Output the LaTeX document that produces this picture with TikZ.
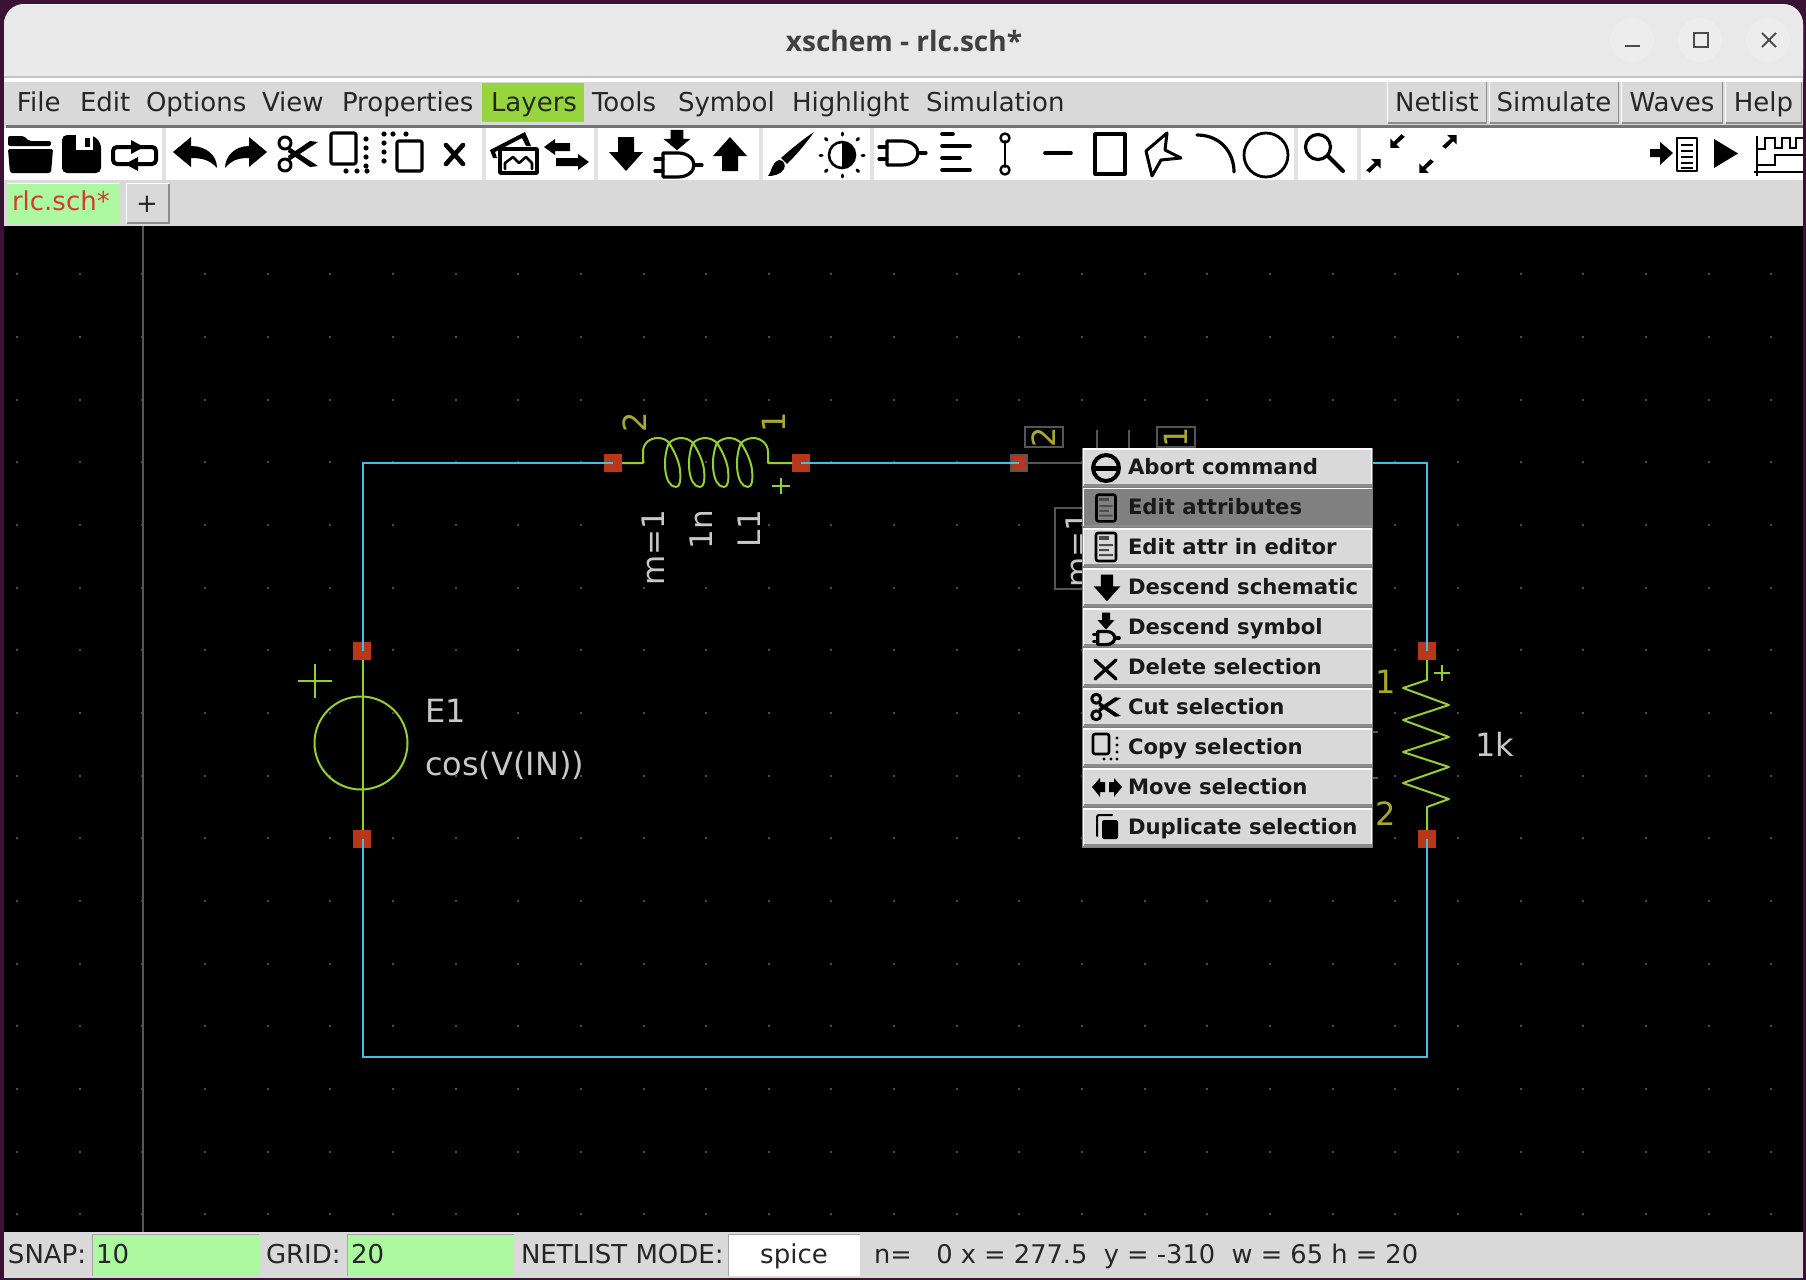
\documentclass[tikz,border=0pt]{standalone}
\usepackage{fontspec}
\setmainfont{DejaVu Sans}
\newfontfamily\titlefont{Open Sans}
\newcommand{\uisize}[1]{\fontsize{#1}{#1}\selectfont}
\definecolor{desk}{HTML}{3A1236}
\definecolor{winbar}{HTML}{E9E9E9}
\definecolor{uigray}{HTML}{D9D9D9}
\definecolor{sepgray}{HTML}{E2E2E2}
\definecolor{entry}{HTML}{ADF9A0}
\definecolor{layersgreen}{HTML}{96D63C}
\definecolor{wirec}{HTML}{44BEDE}
\definecolor{symc}{HTML}{93D132}
\definecolor{pinc}{HTML}{B8361A}
\definecolor{numc}{HTML}{A8A830}
\definecolor{txtc}{HTML}{C8C8C8}
\definecolor{ghost}{HTML}{555555}
\definecolor{griddot}{HTML}{4A4A4A}
\definecolor{tabred}{HTML}{D63A2A}
\tikzset{
  x=0.5pt,y=-0.5pt,
  lbl/.style={inner sep=0pt,outer sep=0pt,anchor=base west,font=\uisize{13pt},text=black!85},
  lblc/.style={lbl,anchor=base},
  mitem/.style={inner sep=0pt,outer sep=0pt,anchor=base west,font=\uisize{10.6pt}\bfseries,text=black!90},
  schem/.style={inner sep=0pt,outer sep=0pt,font=\uisize{16pt},text=txtc},
  pinnum/.style={inner sep=0pt,outer sep=0pt,font=\uisize{16pt},text=numc},
  pinbox/.style={draw=none,fill=pinc,minimum size=9pt,inner sep=0pt,outer sep=0pt},
  wire/.style={draw=wirec,line width=1.1pt},
  sym/.style={draw=symc,line width=1pt,line join=round},
  ghostline/.style={draw=ghost,line width=0.8pt},
  ico/.style={draw=black,line width=1.6pt,line cap=round,line join=round},
  pics/scissorsicon/.style={code={
    \draw[ico,line width=1.5pt] (-13,-11) circle[radius=6];
    \draw[ico,line width=1.5pt] (-13,11) circle[radius=6];
    \fill (-9,-7) -- (20,12) -- (12,13) -- (-10,-2) -- cycle;
    \fill (-9,7) -- (20,-12) -- (12,-13) -- (-10,2) -- cycle;
  }},
  pics/gateicon/.style={code={
    \draw[ico] (-15,-12) -- (0,-12) .. controls (10,-12) and (16,-6) .. (16,0) .. controls (16,6) and (10,12) .. (0,12) -- (-15,12) -- cycle;
    \draw[ico] (-23,-6) -- (-15,-6) (-23,6) -- (-15,6) (16,0) -- (24,0);
  }},
  pics/downarrow/.style={code={
    \fill (-8,-17) -- (8,-17) -- (8,-2) -- (17,-2) -- (0,17) -- (-17,-2) -- (-8,-2) -- cycle;
  }},
  pics/diagarrow/.style={code={
    \fill (9,-8) -- (-2,-8) -- (2,-4) -- (-8,5) -- (-4,8) -- (5,-1) -- (9,3) -- cycle;
  }},
  pics/docicon/.style={code={
    \draw[ico,line width=1.3pt,rounded corners=1pt] (-10,-14) rectangle (10,14);
    \fill[black!70] (-7,-3) rectangle (7,-1) (-7,2) rectangle (3,4) (-7,7) rectangle (7,9);
    \fill[black!70] (-7,-11) rectangle (3,-7);
  }},
}
\begin{document}
\begin{tikzpicture}
\useasboundingbox (0,0) rectangle (1806,1280);
\fill[desk] (0,0) rectangle (1806,1280);
% window
\fill[white,rounded corners=10pt] (4,4) rectangle (1803,100);
\fill[winbar,rounded corners=10pt] (4,5) rectangle (1803,90);
\fill[uigray!90!black] (4,76) rectangle (1803,78);
\fill[white] (4,78) rectangle (1803,82);
\fill[uigray] (4,82) rectangle (1803,1278);
\fill[black!55] (6,125) rectangle (1803,128);
\node[inner sep=0pt,font=\uisize{14pt}\titlefont\bfseries,text=black!75,anchor=base] (title) at (904,51) {xschem - rlc.sch*};
\foreach \cx/\nm in {1632/btna,1700/btnb,1768/btnc}
  \node[circle,fill=black!7,minimum size=22pt,inner sep=0pt] (\nm) at (\cx,40) {};
\draw[black!70,line width=1pt] (1625,46) -- (1640,46);
\draw[black!70,line width=1pt] (1694,33) rectangle (1708,47);
\draw[black!70,line width=1pt] (1762,33) -- (1776,47) (1776,33) -- (1762,47);
% menu bar
\fill[layersgreen] (482,83) rectangle (584,122);
\foreach \tx/\xx/\nm in {File/17/mfile,Edit/80/medit,Options/146/mopt,View/262/mview,Properties/342/mprop,Layers/491/mlay,Tools/592/mtool,Symbol/678/msym,Highlight/792/mhigh,Simulation/926/msim}
  \node[lbl] (\nm) at (\xx,111) {\tx};
\foreach \a/\b/\tx/\nm in {1387/1487/Netlist/bnet,1489/1619/Simulate/bsim,1621/1723/Waves/bwav,1725/1802/Help/bhlp}{
  \fill[white] (\a,81) rectangle (\b,123);
  \fill[black!45] (\a+1,82) rectangle (\b,124);
  \fill[uigray] (\a+1,82) rectangle (\b-1,122);
  \node[lblc] (\nm) at ({(\a+\b)/2},111) {\tx};
}
% toolbar
\fill[white] (4,128) rectangle (1803,180);
\foreach \a in {162,482,594,759,870,1294,1357}
  \fill[sepgray] (\a,128) rectangle (\a+4,180);
% folder
\fill[rounded corners=1pt] (8,146) -- (8,136) -- (24,136) -- (29,141) -- (51,141) -- (51,146) -- cycle;
\fill[rounded corners=1pt] (8,149) -- (53,149) -- (51,173) -- (10,173) -- cycle;
% floppy
\fill[rounded corners=2.5pt] (62,135) -- (93,135) -- (101,143) -- (101,173) -- (62,173) -- cycle;
\fill[white] (76,135) rectangle (93,150);
\fill (85,138) rectangle (90,147);
% reload
\draw[ico,line width=2pt,line cap=butt,rounded corners=2pt] (135,147) -- (113,147) -- (113,164) -- (134,164);
\draw[ico,line width=2pt,line cap=butt,rounded corners=2pt] (134,164) -- (156,164) -- (156,147) -- (134,147);
\fill (131,140) -- (144,147) -- (131,154) -- cycle;
\fill (138,157) -- (125,164) -- (138,171) -- cycle;
% undo redo
\fill (173,152) -- (191,137) -- (191,146) .. controls (206,146) and (217,155) .. (217,168) .. controls (210,160) and (202,158) .. (191,158) -- (191,167) -- cycle;
\fill (267,152) -- (249,137) -- (249,146) .. controls (234,146) and (225,157) .. (225,168) .. controls (232,160) and (238,158) .. (249,158) -- (249,167) -- cycle;
\pic at (298,154) {scissorsicon};
% copy
\draw[ico,rounded corners=1pt] (331,133) rectangle (356,164);
\foreach \p in {(366,139),(366,148),(366,157),(366,166),(346,171),(357,171),(367,171)}
  \fill \p circle[radius=2.6];
% paste
\draw[ico,rounded corners=1pt] (397,141) rectangle (422,171);
\foreach \p in {(384,134),(384,143),(384,152),(384,161),(393,134),(406,134)}
  \fill \p circle[radius=2.6];
% x
\draw[ico,line width=2.3pt] (446,145) -- (463,164) (463,145) -- (446,164);
% open image
\draw[ico,line width=1.8pt,line cap=butt] (500,149) rectangle (537,173);
\draw[ico,line width=1.3pt] (505,169) -- (505,163) -- (513,157) -- (519,163) -- (526,157) -- (532,163) -- (532,169);
\fill (490,150) -- (525,132) -- (531,146) -- (526,146) -- (522,138) -- (495,152) -- (497,158) -- (493,158) -- cycle;
% swap
\fill (544,147) -- (555,139) -- (555,143) -- (570,143) -- (570,151) -- (555,151) -- (555,155) -- cycle;
\fill (589,162) -- (578,154) -- (578,158) -- (556,158) -- (556,166) -- (578,166) -- (578,170) -- cycle;
% descend
\pic at (626,154) {downarrow};
\pic[xscale=0.8,yscale=0.6] at (677,140) {downarrow};
\pic at (678,165) {gateicon};
\pic[rotate=180] at (730,154) {downarrow};
% brush
\fill (814,132) .. controls (805,145) and (795,156) .. (787,164) -- (781,158) .. controls (790,150) and (802,140) .. (814,132) -- cycle;
\fill (779,160) .. controls (784,160) and (786,165) .. (784,169) .. controls (780,175) and (773,176) .. (768,176) .. controls (772,172) and (771,163) .. (779,160) -- cycle;
% sun
\draw[ico,line width=1.3pt] (842,155) circle[radius=13];
\fill (842,142) arc[start angle=-90,end angle=90,radius=13] -- cycle;
\foreach \dx/\dy in {0/-20,0/20,-20/0,20/0,-15/-15,15/-15,-15/15,15/15}
  \draw[ico,line width=1.5pt] ({842+\dx},{155+\dy}) -- ({842+\dx*1.1},{155+\dy*1.1});
\pic at (902,153) {gateicon};
% align lines
\draw[ico,line width=1.8pt] (942,134) -- (953,134) (942,146) -- (970,146) (942,158) -- (960,158) (942,170) -- (970,170);
% wire tool
\draw[ico,line width=1.3pt] (1005,141) -- (1005,167);
\draw[ico,line width=1.2pt] (1005,138) circle[radius=4.5] (1005,170) circle[radius=4.5];
\draw[ico,line width=1.8pt] (1045,153) -- (1071,153);
\draw[ico,line cap=butt] (1095,134) rectangle (1125,174);
\draw[ico,line width=1.5pt] (1146,151) -- (1167,133) -- (1165,150) -- (1181,158) -- (1161,160) -- (1152,176) -- cycle;
\draw[ico] (1197,135) .. controls (1220,135) and (1234,152) .. (1234,172);
\draw[ico,line width=1.4pt] (1266,155) circle[radius=22];
\draw[ico] (1318,147) circle[radius=12.5];
\draw[ico,line width=2pt] (1328,156) -- (1343,171);
\pic[scale=0.85] at (1373,166) {diagarrow};
\pic[rotate=180,scale=0.85] at (1398,141) {diagarrow};
\pic[rotate=180,scale=0.85] at (1427,166) {diagarrow};
\pic[scale=0.85] at (1449,142) {diagarrow};
% netlist
\fill (1650,149) -- (1660,149) -- (1660,142) -- (1673,153) -- (1660,165) -- (1660,157) -- (1650,157) -- cycle;
\draw[ico,line width=1pt,line cap=butt] (1677,138) rectangle (1697,171);
\foreach \yy in {144,150,156,162,167}
  \fill (1681,\yy) rectangle (1693,\yy+2);
\fill (1714,139) -- (1738,153.5) -- (1714,168) -- cycle;
\draw[ico,line width=1pt,line cap=butt] (1757,136) -- (1757,176) (1754,172) -- (1803,172);
\draw[ico,line width=1.1pt,line cap=butt,line join=miter] (1757,149) -- (1765,149) -- (1765,138) -- (1775,138) -- (1775,148) -- (1782,148) -- (1782,138) -- (1790,138) -- (1790,148) -- (1796,148) -- (1796,138) -- (1803,138);
\draw[ico,line width=1.1pt,line cap=butt,line join=miter] (1757,165) -- (1775,165) -- (1775,155) -- (1803,155);
% tabs
\fill[entry] (7,183) rectangle (119,223);
\fill[white] (7,183) rectangle (119,184);
\node[lbl,text=tabred] (tabname) at (12,210) {rlc.sch*};
\fill[white] (126,183) rectangle (169,223);
\fill[black!45] (127,184) rectangle (170,224);
\fill[uigray] (127,184) rectangle (168,222);
\node[lblc] (tabplus) at (147,212) {+};
% canvas
\fill[black] (4,226) rectangle (1803,1232);
\foreach \i in {0,...,28} \foreach \j in {-4,...,11}
  \fill[griddot] ({17+62.65*\i-1},{525+62.65*\j-1}) rectangle +(2,2);
\draw[ghost,line width=0.7pt] (143,226) -- (143,1232);
% pins
\node[pinbox] (L2) at (613,463) {};
\node[pinbox] (L1) at (801,463) {};
\node[pinbox,minimum size=8pt,draw=ghost,line width=0.6pt] (C2) at (1019,463) {};
\coordinate (C1) at (1200,463);
\node[pinbox] (Et) at (362,651) {};
\node[pinbox] (Eb) at (362,839) {};
\node[pinbox] (Rt) at (1427,651) {};
\node[pinbox] (Rb) at (1427,839) {};
\coordinate (TL) at (363,463);
\coordinate (TR) at (1427,463);
\coordinate (BL) at (363,1057);
\coordinate (BR) at (1427,1057);
% wires
\draw[wire] (L2.center) -- (TL) -- (363,651);
\draw[wire] (L1.center) -- (C2.center);
\draw[wire] (C1) -- (TR) -- (Rt.center);
\draw[wire] (Rb.center) -- (BR) -- (BL) -- (363,839);
% inductor
\draw[sym] (L2.east) -- (643,463) -- (643,452) .. controls (643,443) and (650,438) .. (658,438) .. controls (663,438) and (667,440) .. (669,443);
\foreach \d in {0,24,48}
  \draw[sym] ({669+\d},443) .. controls ({672+\d},440) and ({677+\d},438) .. ({681+\d},438) .. controls ({686+\d},438) and ({690+\d},440) .. ({693+\d},443);
\draw[sym] (741,443) .. controls (744,440) and (749,438) .. (753,438) .. controls (760,438) and (768,443) .. (768,452) -- (768,463) -- (L1.west);
\foreach \d in {0,24,48,72}
  \draw[sym] ({669+\d},443) .. controls ({662+\d},458) and ({664+\d},487) .. ({676+\d},487) .. controls ({680+\d},487) and ({681+\d},480) .. ({680+\d},470) .. controls ({679+\d},460) and ({673+\d},449) .. ({669+\d},443);
\draw[sym] (772,486) -- (790,486) (781,478) -- (781,494);
\node[pinnum,rotate=90] (Ln2) at (635,422) {2};
\node[pinnum,rotate=90] (Ln1) at (774,422) {1};
\node[schem,rotate=90,anchor=base east,font=\uisize{15.5pt}] (Lm) at (664,510) {m=1};
\node[schem,rotate=90,anchor=base east,font=\uisize{15.5pt}] (Lv) at (712,510) {1n};
\node[schem,rotate=90,anchor=base east,font=\uisize{15.5pt}] (Ln) at (760,510) {L1};
% capacitor (selected, behind the menu)
\draw[ghostline] (C2.east) -- (1090,463);
\draw[ghostline] (1097,430) -- (1097,450) (1129,430) -- (1129,450);
\node[pinnum,rotate=90,draw=ghost,line width=0.8pt,minimum width=10pt,minimum height=19pt] (Cn2) at (1044,437) {2};
\node[pinnum,rotate=90,draw=ghost,line width=0.8pt,minimum width=10pt,minimum height=19pt] (Cn1) at (1176,437) {1};
\draw[ghostline] (1100,508) -- (1055,508) -- (1055,589) -- (1100,589);
\node[schem,rotate=90,anchor=base east,font=\uisize{15.5pt}] (Cm) at (1088,512) {m=1};
% source
\draw[sym] (Et.south -| 363,0) -- (Eb.north -| 363,0);
\draw[sym] (361,743) circle[radius=46.5];
\draw[sym] (298,681) -- (332,681) (315,664) -- (315,698);
\node[schem,anchor=base west] (Ename) at (425,722) {E1};
\node[schem,anchor=base west] (Eval) at (425,775) {cos(V(IN))};
% resistor
\draw[sym] (Rt.south) -- (1427,680) -- (1403,688) -- (1449,705) -- (1403,720) -- (1449,737) -- (1403,752) -- (1449,767) -- (1403,783) -- (1449,799) -- (1427,807) -- (Rb.north);
\draw[sym] (1434,673) -- (1450,673) (1442,665) -- (1442,681);
\node[pinnum] (Rn1) at (1386,682) {1};
\node[pinnum] (Rn2) at (1386,814) {2};
\node[schem,anchor=base west] (Rval) at (1475,756) {1k};
\draw[ghostline] (1372,732) -- (1378,732) (1372,778) -- (1378,778);
% popup menu
\fill[black!50] (1082,448) rectangle (1373,848);
\foreach \i/\tx/\nm in {0/Abort command/ia,1/Edit attributes/ib,2/Edit attr in editor/ic,3/Descend schematic/id,4/Descend symbol/ie,5/Delete selection/if,6/Cut selection/ig,7/Copy selection/ih,8/Move selection/ii,9/Duplicate selection/ij}{
  \pgfmathsetmacro{\tp}{448+40*\i}
  \fill[white] (1083,\tp) rectangle (1372,\tp+38);
  \fill[black!45] (1084,\tp+36) rectangle (1372,\tp+39);
  \ifnum\i=1 \fill[black!50] (1084,\tp+1) rectangle (1372,\tp+37);
  \else \fill[uigray] (1084,\tp+2) rectangle (1371,\tp+36); \fi
  \node[mitem] (\nm) at (1128,\tp+26) {\tx};
}
% menu icons
\draw[ico,line width=2pt] (1106,468) circle[radius=13];
\draw[ico,line width=2.5pt,line cap=butt] (1093,468) -- (1119,468);
\pic[scale=0.95] at (1106,508) {docicon};
\pic at (1106,547) {docicon};
\pic[scale=0.78] at (1107,588) {downarrow};
\pic[scale=0.5] at (1106,621) {downarrow};
\pic[scale=0.55] at (1106,638) {gateicon};
\draw[ico,line width=1.7pt] (1095,660) -- (1116,679) (1116,660) -- (1095,679);
\pic[scale=0.75] at (1106,707) {scissorsicon};
\draw[ico,line width=1.3pt,rounded corners=1pt] (1093,734) rectangle (1109,754);
\foreach \p in {(1117,738),(1117,745),(1117,752),(1117,759),(1104,759),(1111,759)}
  \fill \p circle[radius=1.7];
\fill (1092,787) -- (1100,778) -- (1100,782) -- (1105,782) -- (1105,792) -- (1100,792) -- (1100,797) -- cycle;
\fill (1122,787) -- (1114,778) -- (1114,782) -- (1109,782) -- (1109,792) -- (1114,792) -- (1114,797) -- cycle;
\draw[ico,line width=1pt,rounded corners=1pt] (1097,836) -- (1097,815) -- (1112,815);
\fill[rounded corners=1pt] (1102,820) rectangle (1118,839);
% status bar
\node[lbl] (snapl) at (8,1263) {SNAP:};
\fill[entry] (92,1234) rectangle (259,1276);
\draw[black!35,line width=0.5pt] (92,1276) -- (92,1234) -- (259,1234);
\node[lbl] (snapv) at (96,1263) {10};
\node[lbl] (gridl) at (266,1263) {GRID:};
\fill[entry] (347,1234) rectangle (514,1276);
\draw[black!35,line width=0.5pt] (347,1276) -- (347,1234) -- (514,1234);
\node[lbl] (gridv) at (351,1263) {20};
\node[lbl] (model) at (521,1263) {NETLIST MODE:};
\fill[white] (728,1234) rectangle (860,1276);
\draw[black!35,line width=0.5pt] (728,1276) -- (728,1234) -- (860,1234);
\node[lblc] (modev) at (794,1263) {spice};
\node[lbl,font=\uisize{12.85pt}] (stat) at (874,1263) {n=\ \ \ 0 x = 277.5\ \ y = -310\ \ w = 65 h = 20};
\end{tikzpicture}
\end{document}
